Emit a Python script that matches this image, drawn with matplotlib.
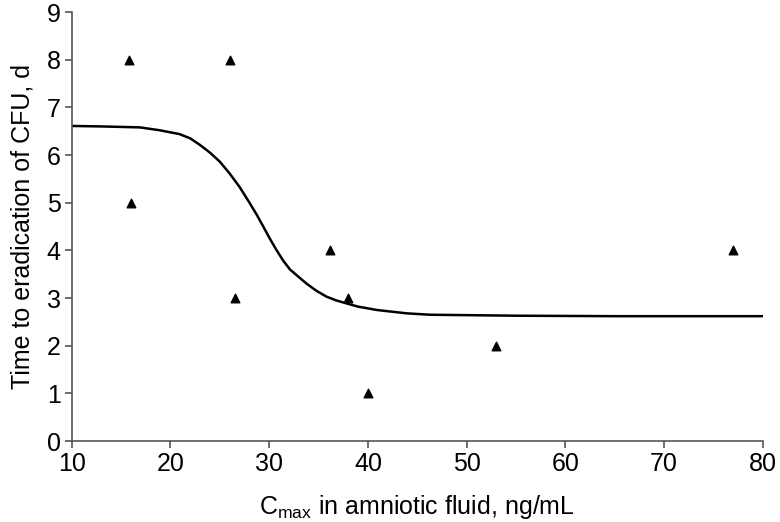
import matplotlib
matplotlib.use("Agg")
import matplotlib.pyplot as plt

# observed points
cmax = [15.8, 16.0, 26.0, 26.5, 36.2, 38.0, 40.0, 53.0, 77.0]
days = [8, 5, 8, 3, 4, 3, 1, 2, 4]

# fitted curve
fit_x = [10, 13, 16.9, 18.9, 20.9, 22.0, 23.0, 24.0, 25.0, 26.0, 27.0, 28.0, 28.7,
         29.4, 30.0, 30.7, 31.4, 32.1, 33.0, 33.8, 34.8, 35.8, 36.8, 37.8, 39.0,
         40.9, 43.9, 46.3, 50.7, 55, 65, 80]
fit_y = [6.61, 6.60, 6.58, 6.52, 6.44, 6.35, 6.21, 6.05, 5.86, 5.61, 5.33, 5.00, 4.76,
         4.50, 4.27, 4.02, 3.79, 3.60, 3.44, 3.30, 3.15, 3.03, 2.95, 2.89, 2.82,
         2.75, 2.68, 2.65, 2.64, 2.63, 2.62, 2.62]

plt.rcParams['font.family'] = ['Liberation Sans', 'DejaVu Sans']

fig = plt.figure(figsize=(7.8, 5.22), dpi=100)
ax = fig.add_axes([0.092, 0.155, 0.886, 0.822])

ax.plot(fit_x, fit_y, color='black', lw=1.8, zorder=2, solid_joinstyle='round')
ax.scatter(cmax, days, marker='^', s=38, color='black', zorder=3)

ax.set_xlim(10, 80)
ax.set_ylim(0, 9)
ax.set_xticks(range(10, 81, 10))
ax.set_yticks(range(0, 10))

for s in ['top', 'right']:
    ax.spines[s].set_visible(False)
for s in ['left', 'bottom']:
    ax.spines[s].set_color('#555555')
    ax.spines[s].set_linewidth(1.2)
ax.tick_params(direction='out', length=5, width=1.2, color='#555555',
               labelsize=18, pad=3)

ax.set_xlabel('C$_{\\mathregular{max}}$ in amniotic fluid, ng/mL', fontsize=18, labelpad=12)
ax.set_ylabel('Time to eradication of CFU, d', fontsize=18, labelpad=9)

fig.savefig('out.png', dpi=100)
